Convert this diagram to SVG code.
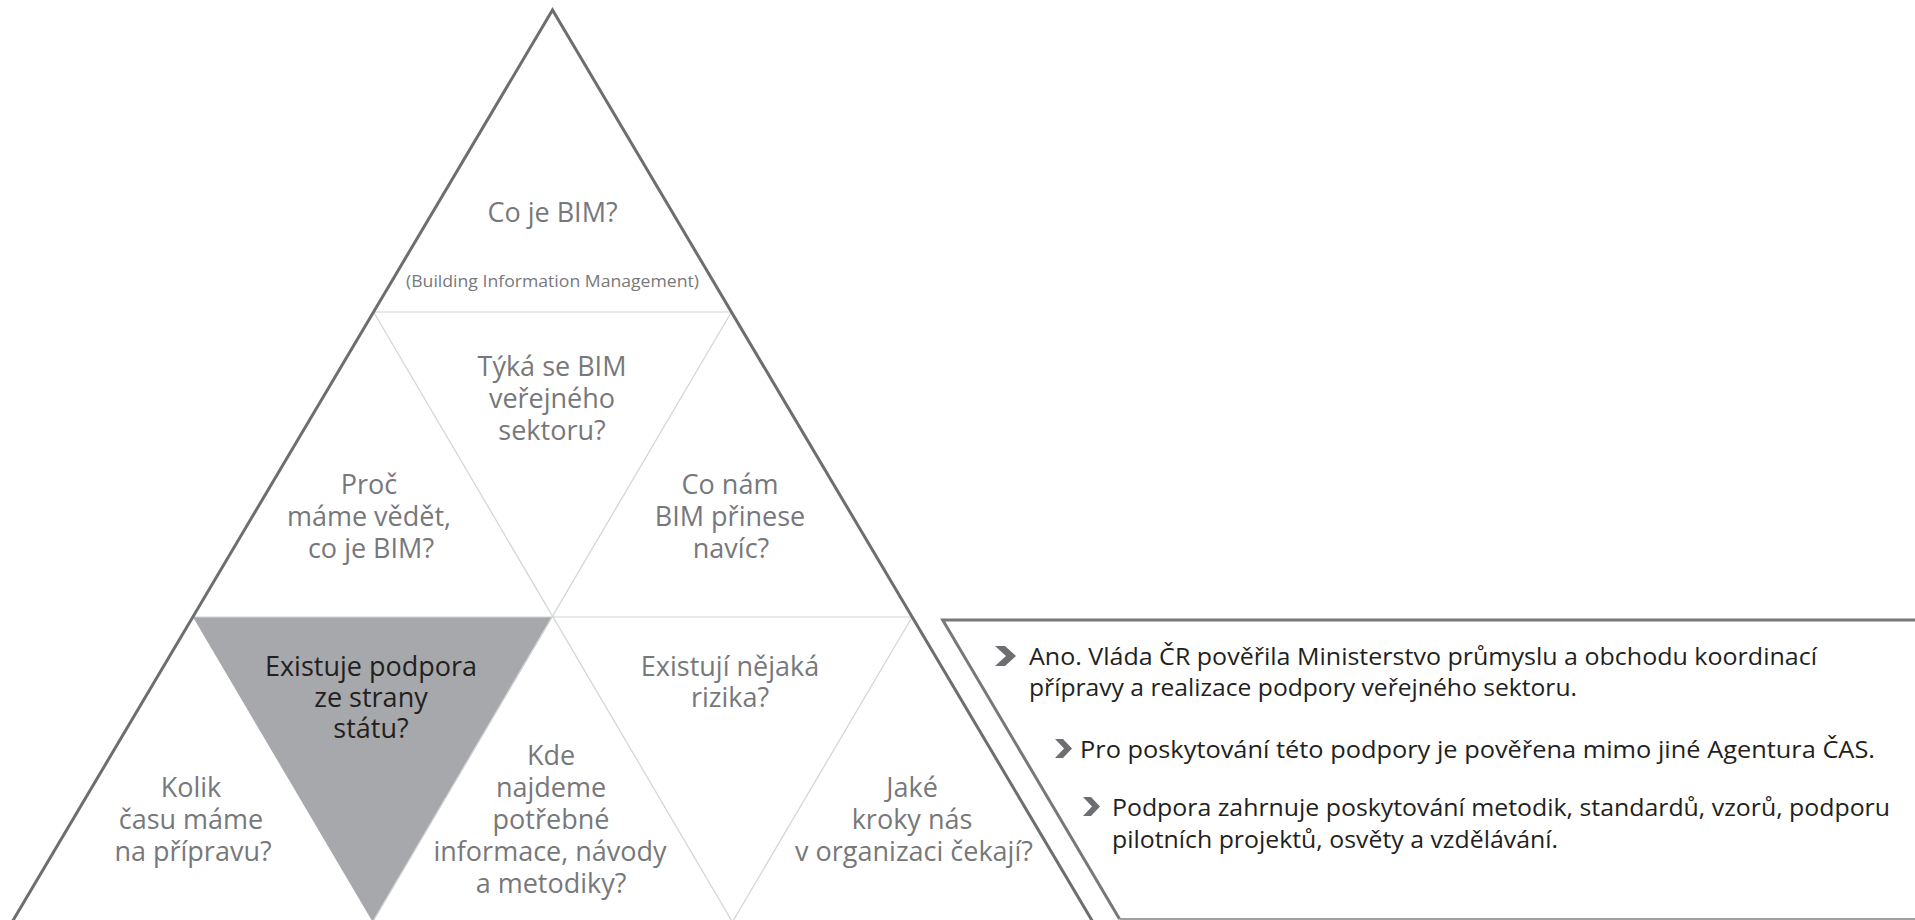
<svg xmlns="http://www.w3.org/2000/svg" width="1915" height="920" viewBox="0 0 1915 920">
<style>
.q{font-family:"Open Sans","Noto Sans","Liberation Sans",sans-serif;font-size:27px;fill:#77787b;text-anchor:middle}
.qd{fill:#231f20}
.s{font-family:"Open Sans","Noto Sans","Liberation Sans",sans-serif;font-size:16px;fill:#77787b;text-anchor:middle}
.p{font-family:"Open Sans","Noto Sans","Liberation Sans",sans-serif;font-size:24px;fill:#231f20}
.thin{stroke:#d1d3d4;stroke-width:1.2;fill:none}
.thick{stroke:#6d6e71;stroke-width:3;fill:none;stroke-linejoin:miter}
.chev{fill:#6d6e71}
</style>
<rect width="1915" height="920" fill="#ffffff"/>
<g id="highlight">
<polygon points="192.9,617 552.5,617 372.7,922" fill="#a7a8ab"/>
</g>
<g id="connectors">
<line class="thin" x1="373.6" y1="312" x2="731.4" y2="312"/>
<line class="thin" x1="192.9" y1="617" x2="912.1" y2="617"/>
<line class="thin" x1="373.6" y1="312" x2="732.4" y2="922"/>
<line class="thin" x1="731.4" y1="312" x2="372.6" y2="922"/>
<line class="thin" x1="912.1" y1="617" x2="732.4" y2="922"/>
<path class="thick" d="M12.1,922 L552.5,10 L1092.9,922"/>
<path d="M1915,620 H942.7 L1119.5,919" fill="none" stroke="#77787b" stroke-width="3"/>
<line x1="1119.5" y1="919" x2="1915" y2="919" stroke="#a0a0a3" stroke-width="2"/>
</g>
<g id="node-co-je-bim">
<text class="q" x="552.5" y="222">Co je BIM?</text>
<text class="s" x="552.5" y="287" textLength="293" lengthAdjust="spacingAndGlyphs">(Building Information Management)</text>
</g>
<g id="node-tyka">
<text class="q" x="552" y="376">Týká se BIM</text>
<text class="q" x="552" y="408">veřejného</text>
<text class="q" x="552" y="440">sektoru?</text>
</g>
<g id="node-proc">
<text class="q" x="369" y="494">Proč</text>
<text class="q" x="369" y="526">máme vědět,</text>
<text class="q" x="371" y="558">co je BIM?</text>
</g>
<g id="node-co-nam">
<text class="q" x="730" y="494">Co nám</text>
<text class="q" x="730" y="526">BIM přinese</text>
<text class="q" x="731" y="558">navíc?</text>
</g>
<g id="node-existuje">
<text class="q qd" x="371" y="676">Existuje podpora</text>
<text class="q qd" x="371" y="707">ze strany</text>
<text class="q qd" x="371" y="738">státu?</text>
</g>
<g id="node-rizika">
<text class="q" x="730" y="676">Existují nějaká</text>
<text class="q" x="730" y="707">rizika?</text>
</g>
<g id="node-kolik">
<text class="q" x="191" y="797">Kolik</text>
<text class="q" x="191" y="829">času máme</text>
<text class="q" x="193" y="861">na přípravu?</text>
</g>
<g id="node-kde">
<text class="q" x="551" y="765">Kde</text>
<text class="q" x="551" y="797">najdeme</text>
<text class="q" x="551" y="829">potřebné</text>
<text class="q" x="550" y="861">informace, návody</text>
<text class="q" x="551" y="893">a metodiky?</text>
</g>
<g id="node-jake">
<text class="q" x="912" y="797">Jaké</text>
<text class="q" x="912" y="829">kroky nás</text>
<text class="q" x="914" y="861">v organizaci čekají?</text>
</g>
<g id="node-answer">
<polygon class="chev" points="995,646 1005,646 1016,656 1005,666 995,666 1006,656"/>
<text class="p" x="1029" y="665" textLength="788" lengthAdjust="spacingAndGlyphs">Ano. Vláda ČR pověřila Ministerstvo průmyslu a obchodu koordinací</text>
<text class="p" x="1029" y="696" textLength="548" lengthAdjust="spacingAndGlyphs">přípravy a realizace podpory veřejného sektoru.</text>
<polygon class="chev" points="1055,739 1063,739 1072,748.5 1063,758 1055,758 1064,748.5"/>
<text class="p" x="1080" y="758" textLength="795" lengthAdjust="spacingAndGlyphs">Pro poskytování této podpory je pověřena mimo jiné Agentura ČAS.</text>
<polygon class="chev" points="1083,797 1091,797 1100,806.5 1091,816 1083,816 1092,806.5"/>
<text class="p" x="1112" y="816" textLength="778" lengthAdjust="spacingAndGlyphs">Podpora zahrnuje poskytování metodik, standardů, vzorů, podporu</text>
<text class="p" x="1112" y="848" textLength="446" lengthAdjust="spacingAndGlyphs">pilotních projektů, osvěty a vzdělávání.</text>
</g>
</svg>
